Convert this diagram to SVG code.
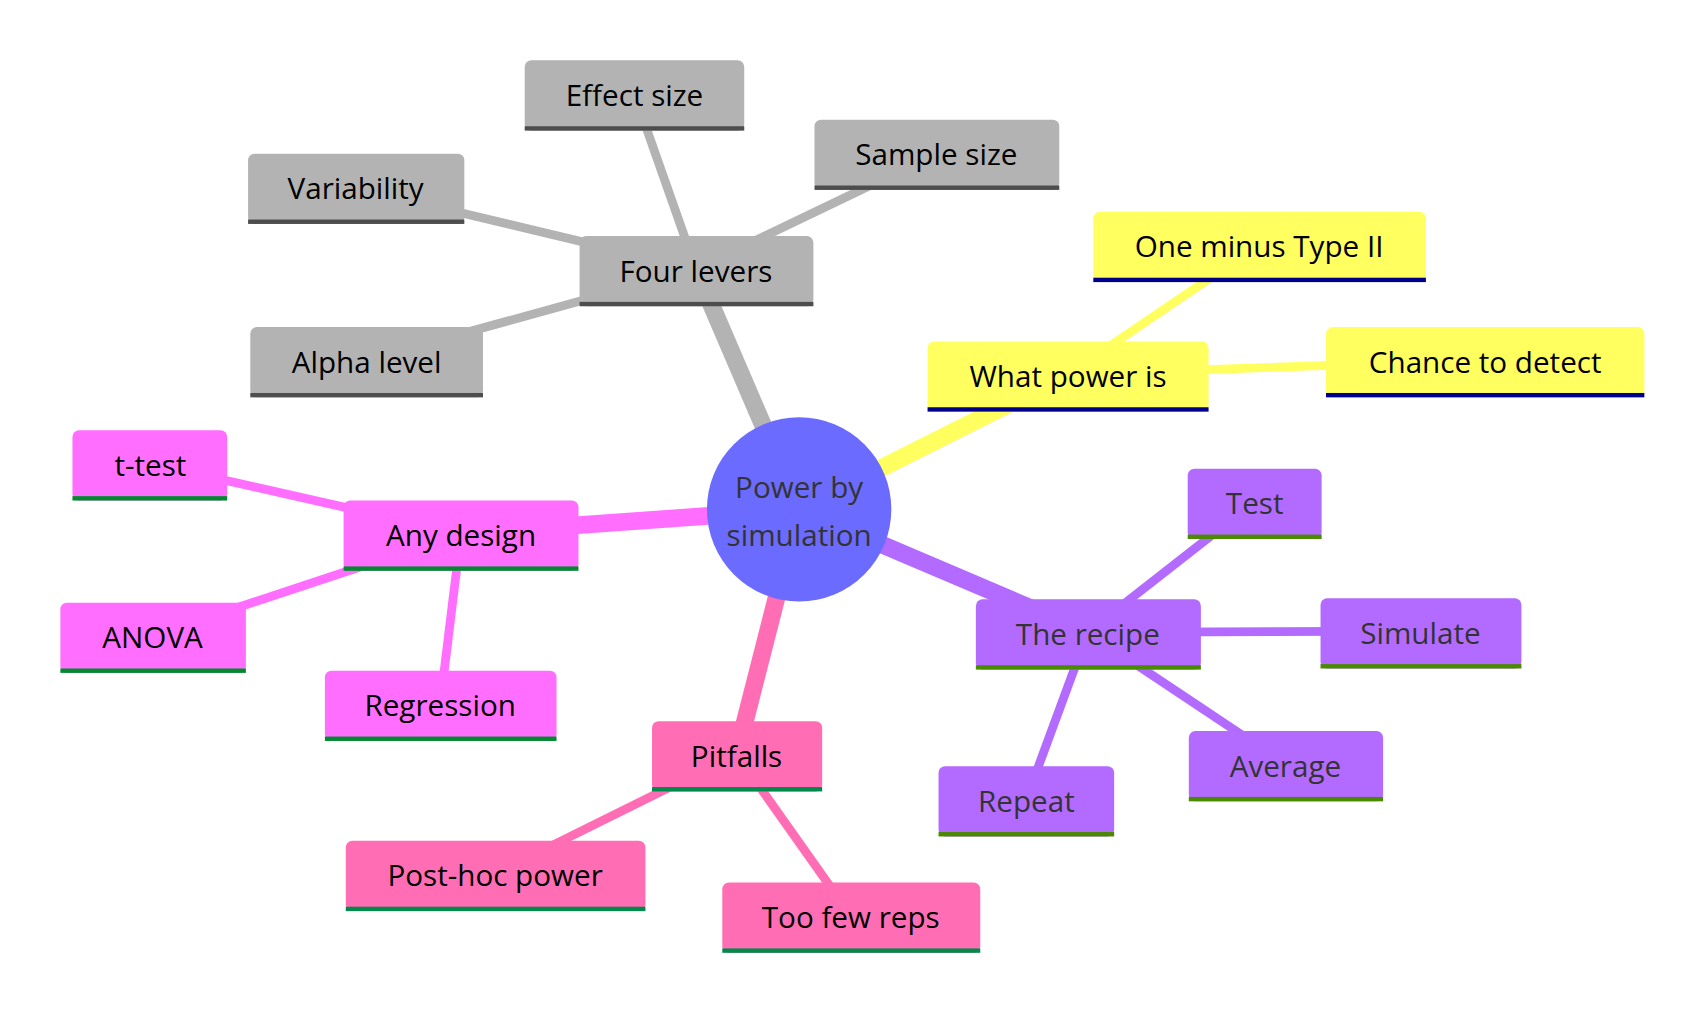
<svg xmlns="http://www.w3.org/2000/svg" width="1708" height="1012" viewBox="0 0 1708 1012">
<style>
text{font-family:"Open Sans","Noto Sans","DejaVu Sans",sans-serif;font-size:27px;text-anchor:middle;dominant-baseline:central;fill:#000}
.e1{stroke-width:16;fill:none}.e2{stroke-width:8;fill:none}
.g{stroke:#b3b3b3}.y{stroke:#ffff60}.m{stroke:#ff6eff}.p{stroke:#ff6eb4}.v{stroke:#b36bff}
.bg{fill:#b3b3b3}.by{fill:#ffff60}.bm{fill:#ff6eff}.bp{fill:#ff6eb4}.bv{fill:#b36bff}
.lg{fill:#4d4d4d}.ly{fill:#00008b}.lm{fill:#008a2e}.lp{fill:#008a4a}.lv{fill:#4a8a00}
.tv{fill:#333}
</style>
<g transform="scale(1.0977)">
<g id="connectors">
<line class="e1 g" x1="728" y1="464" x2="634" y2="245"/>
<line class="e2 g" x1="634" y1="245" x2="578" y2="86"/>
<line class="e2 g" x1="634" y1="245" x2="853" y2="140"/>
<line class="e2 g" x1="634" y1="245" x2="324" y2="171"/>
<line class="e2 g" x1="634" y1="245" x2="334" y2="328"/>
<line class="e1 y" x1="728" y1="464" x2="973" y2="341"/>
<line class="e2 y" x1="973" y1="341" x2="1147" y2="223"/>
<line class="e2 y" x1="973" y1="341" x2="1353" y2="328"/>
<line class="e1 m" x1="728" y1="464" x2="420" y2="486"/>
<line class="e2 m" x1="420" y1="486" x2="136" y2="422"/>
<line class="e2 m" x1="420" y1="486" x2="139" y2="579"/>
<line class="e2 m" x1="420" y1="486" x2="401" y2="641"/>
<line class="e1 p" x1="728" y1="464" x2="671" y2="687"/>
<line class="e2 p" x1="671" y1="687" x2="451" y2="796"/>
<line class="e2 p" x1="671" y1="687" x2="775" y2="834"/>
<line class="e1 v" x1="728" y1="464" x2="991" y2="576"/>
<line class="e2 v" x1="991" y1="576" x2="1143" y2="457"/>
<line class="e2 v" x1="991" y1="576" x2="1294" y2="575"/>
<line class="e2 v" x1="991" y1="576" x2="1171" y2="696"/>
<line class="e2 v" x1="991" y1="576" x2="935" y2="728"/>
</g>
<g id="n-effect"><rect class="bg" x="478" y="55" width="200" height="64" rx="6"/><rect class="lg" x="478" y="115" width="200" height="4"/><text x="578" y="86">Effect size</text></g>
<g id="n-sample"><rect class="bg" x="742" y="109" width="223" height="64" rx="6"/><rect class="lg" x="742" y="169" width="223" height="4"/><text x="853" y="140">Sample size</text></g>
<g id="n-var"><rect class="bg" x="226" y="140" width="197" height="64" rx="6"/><rect class="lg" x="226" y="200" width="197" height="4"/><text x="324" y="171">Variability</text></g>
<g id="n-four"><rect class="bg" x="528" y="215" width="213" height="64" rx="6"/><rect class="lg" x="528" y="275" width="213" height="4"/><text x="634" y="246">Four levers</text></g>
<g id="n-alpha"><rect class="bg" x="228" y="298" width="212" height="64" rx="6"/><rect class="lg" x="228" y="358" width="212" height="4"/><text x="334" y="329">Alpha level</text></g>
<g id="n-one"><rect class="by" x="996" y="193" width="303" height="64" rx="6"/><rect class="ly" x="996" y="253" width="303" height="4"/><text x="1147" y="224">One minus Type II</text></g>
<g id="n-what"><rect class="by" x="845" y="311" width="256" height="64" rx="6"/><rect class="ly" x="845" y="371" width="256" height="4"/><text x="973" y="342">What power is</text></g>
<g id="n-chance"><rect class="by" x="1208" y="298" width="290" height="64" rx="6"/><rect class="ly" x="1208" y="358" width="290" height="4"/><text x="1353" y="329">Chance to detect</text></g>
<g id="n-ttest"><rect class="bm" x="66" y="392" width="141" height="64" rx="6"/><rect class="lm" x="66" y="452" width="141" height="4"/><text x="137" y="423">t-test</text></g>
<g id="n-any"><rect class="bm" x="313" y="456" width="214" height="64" rx="6"/><rect class="lm" x="313" y="516" width="214" height="4"/><text x="420" y="487">Any design</text></g>
<g id="n-anova"><rect class="bm" x="55" y="549" width="169" height="64" rx="6"/><rect class="lm" x="55" y="609" width="169" height="4"/><text x="139" y="580">ANOVA</text></g>
<g id="n-reg"><rect class="bm" x="296" y="611" width="211" height="64" rx="6"/><rect class="lm" x="296" y="671" width="211" height="4"/><text x="401" y="642">Regression</text></g>
<g id="n-pit"><rect class="bp" x="594" y="657" width="155" height="64" rx="6"/><rect class="lp" x="594" y="717" width="155" height="4"/><text x="671" y="688">Pitfalls</text></g>
<g id="n-post"><rect class="bp" x="315" y="766" width="273" height="64" rx="6"/><rect class="lp" x="315" y="826" width="273" height="4"/><text x="451" y="797">Post-hoc power</text></g>
<g id="n-few"><rect class="bp" x="658" y="804" width="235" height="64" rx="6"/><rect class="lp" x="658" y="864" width="235" height="4"/><text x="775" y="835">Too few reps</text></g>
<g id="n-recipe"><rect class="bv" x="889" y="546" width="205" height="64" rx="6"/><rect class="lv" x="889" y="606" width="205" height="4"/><text class="tv" x="991" y="577">The recipe</text></g>
<g id="n-test"><rect class="bv" x="1082" y="427" width="122" height="64" rx="6"/><rect class="lv" x="1082" y="487" width="122" height="4"/><text class="tv" x="1143" y="458">Test</text></g>
<g id="n-sim"><rect class="bv" x="1203" y="545" width="183" height="64" rx="6"/><rect class="lv" x="1203" y="605" width="183" height="4"/><text class="tv" x="1294" y="576">Simulate</text></g>
<g id="n-avg"><rect class="bv" x="1083" y="666" width="177" height="64" rx="6"/><rect class="lv" x="1083" y="726" width="177" height="4"/><text class="tv" x="1171" y="697">Average</text></g>
<g id="n-rep"><rect class="bv" x="855" y="698" width="160" height="64" rx="6"/><rect class="lv" x="855" y="758" width="160" height="4"/><text class="tv" x="935" y="729">Repeat</text></g>
<g id="n-root"><circle cx="728" cy="464" r="84" fill="#6b6bff"/><text class="tv" x="728" y="443">Power by</text><text class="tv" x="728" y="487">simulation</text></g>
</g>
</svg>
